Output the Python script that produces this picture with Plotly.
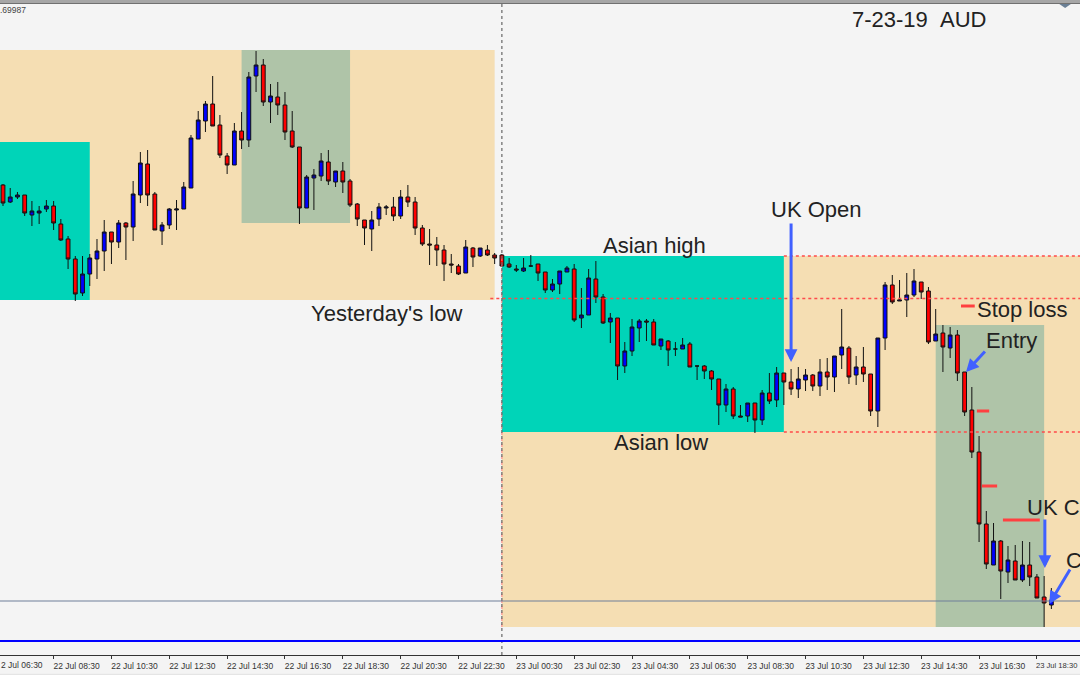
import plotly.graph_objects as go

# Prices are in points above 0.69700 (1 point = 0.00001)
highs = [816,812,808,805,799,794,800,799,781,764,
744,744,746,761,780,768,780,778,819,848,
850,808,778,792,800,818,865,889,899,924,
885,847,877,888,928,949,941,916,918,908,
889,853,825,831,847,850,829,838,821,797,
780,789,797,795,803,810,815,803,775,771,
763,755,746,736,760,753,752,755,747,746,
742,735,742,745,736,728,721,729,734,736,
712,731,739,706,687,682,658,681,681,681,
681,661,660,658,662,658,634,635,630,621,
616,613,595,597,597,610,627,633,627,631,
633,631,626,641,642,644,691,654,644,653,
626,662,718,725,720,727,731,718,713,691,
675,673,670,628,613,564,489,477,460,454,
455,459,458,426,424,412]
lows = [794,797,801,784,774,776,788,770,759,731,
699,704,714,721,729,736,752,740,759,797,
794,770,755,771,770,791,812,861,868,874,
842,826,835,851,853,908,894,877,885,860,
852,776,792,790,819,815,813,807,793,774,
755,749,774,785,779,781,793,765,754,735,
734,719,727,725,727,733,743,744,736,733,
732,728,728,733,719,707,708,706,728,678,
672,685,697,676,657,620,627,644,658,659,
655,650,634,644,651,633,620,621,610,575,
588,581,583,578,567,575,596,593,595,605,
602,609,609,604,610,608,631,616,615,618,
584,573,650,696,699,683,703,701,656,659,
628,642,619,584,542,458,431,435,401,417,
420,418,414,402,373,391]
opens = [815,798,803,805,785,787,791,794,776,761,
741,707,726,741,749,768,758,777,773,805,
836,806,769,775,790,791,812,861,879,896,
875,844,835,869,860,924,935,898,903,895,
869,853,792,822,824,838,818,829,819,796,
780,771,781,792,793,784,803,798,772,756,
755,750,736,734,727,752,744,750,745,745,
736,731,729,734,736,728,710,716,728,731,
682,685,721,703,678,682,634,649,672,679,
678,654,659,651,651,656,634,634,629,621,
595,611,584,584,597,580,607,600,627,618,
611,620,625,614,628,623,645,652,625,633,
626,589,662,715,699,700,705,718,709,659,
667,652,665,628,590,548,476,435,459,428,
439,420,435,423,403,395]
closes = [797,803,805,787,789,789,794,777,760,741,
706,726,742,749,768,758,777,773,806,837,
805,770,775,791,791,813,862,880,896,874,
845,835,869,860,923,935,898,904,895,868,
853,792,823,825,839,819,829,818,795,781,
772,780,793,793,784,803,798,772,756,755,
750,736,735,726,753,743,752,745,742,734,
733,730,732,734,727,710,716,729,732,680,
685,722,703,677,682,634,649,673,679,678,
655,661,650,651,655,633,634,629,621,595,
611,584,583,597,580,607,599,627,618,611,
621,625,614,628,623,644,653,623,633,626,
589,662,715,698,700,705,719,708,658,666,
653,665,627,588,548,476,436,459,429,440,
420,435,423,402,397,400]
assert len(highs) == len(lows) == len(opens) == len(closes) == 146

tick_positions = list(range(-1, 144, 8))
tick_labels = ["", "22 Jul 08:30", "22 Jul 10:30", "22 Jul 12:30", "22 Jul 14:30",
               "22 Jul 16:30", "22 Jul 18:30", "22 Jul 20:30", "22 Jul 22:30", "23 Jul 00:30",
               "23 Jul 02:30", "23 Jul 04:30", "23 Jul 06:30", "23 Jul 08:30", "23 Jul 10:30",
               "23 Jul 12:30", "23 Jul 14:30", "23 Jul 16:30", ""]
edge_labels = [("2 Jul 06:30", -0.41, 8.5), ("23 Jul 18:30", 142.75, 7.6)]

ORANGE, TEAL, GREEN = "#f5deb3", "#00d4b8", "#afc4a8"
# session boxes: candle start, candle end, low, high, colour
boxes = [(-1, 68, 700, 950, ORANGE), (-1, 12, 700, 858, TEAL), (33, 48, 777, 950, GREEN),
         (69, 150, 373, 744, ORANGE), (69, 108, 568, 744, TEAL), (129, 144, 373, 675, GREEN)]
# dotted levels: start candle, price
red_levels = [(108, 744), (67.4, 701.5), (108, 568)]
# short red marks: start candle, end candle, price
red_marks = [(132.5, 134.4, 694), (134.7, 136.4, 589), (135.4, 137.5, 514), (138.3, 143.4, 480)]
# text labels: text, candle, price
labels = [("7-23-19\u00a0\u00a0AUD", 117.12, 981), ("UK Open", 105.92, 791), ("Asian high", 82.72, 755),
          ("Asian low", 84.22, 558), ("Yesterday's low", 42.32, 687), ("Stop loss", 134.42, 691),
          ("Entry", 135.72, 660), ("UK C", 141.32, 493), ("C", 146.72, 440)]
# arrows: tail candle, tail price, tip candle, tip price
arrows = [(109, 778, 109, 638), (136, 650, 133.2, 628), (144.1, 482, 144.1, 432), (147.7, 432, 144.7, 396)]

fig = go.Figure(go.Candlestick(
    x=list(range(len(opens))), open=opens, high=highs, low=lows, close=closes,
    increasing=dict(fillcolor="#0000ff", line=dict(color="#111111", width=1)),
    decreasing=dict(fillcolor="#ff0000", line=dict(color="#111111", width=1)),
    whiskerwidth=0, showlegend=False, hoverinfo="skip"))

shapes = []
for x0, x1, y0, y1, c in boxes:
    shapes.append(dict(type="rect", x0=x0, x1=x1, y0=y0, y1=y1, fillcolor=c, line_width=0, layer="below"))
for x0, y in red_levels:
    shapes.append(dict(type="line", x0=x0, x1=150, y0=y, y1=y, line=dict(color="#ff4a4a", width=1.5, dash="dot")))
shapes.append(dict(type="line", x0=69, x1=69, y0=373, y1=744, line=dict(color="#ff7a7a", width=1, dash="dot")))
shapes.append(dict(type="line", x0=69, x1=69, y0=345, y1=1000, line=dict(color="#666666", width=1.2, dash="dot")))
shapes.append(dict(type="line", x0=-1, x1=150, y0=399, y1=399, line=dict(color="#6f7f99", width=1)))
shapes.append(dict(type="line", x0=-1, x1=150, y0=359, y1=359, line=dict(color="#0000ff", width=2)))
for x0, x1, y in red_marks:
    shapes.append(dict(type="line", x0=x0, x1=x1, y0=y, y1=y, line=dict(color="#ff4040", width=3)))
# window frame at the top: pale band, dark edge, small drop marker
shapes.append(dict(type="rect", x0=-1, x1=150, y0=997, y1=1000, fillcolor="#a6a6a6", line_width=0))
shapes.append(dict(type="rect", x0=-1, x1=150, y0=996, y1=997, fillcolor="#707070", line_width=0))
shapes.append(dict(type="path", path="M 146.1 996 L 147.7 996 L 146.9 992 Z", fillcolor="#6a7f95", line_width=0))
shapes.append(dict(type="line", xref="paper", yref="paper", x0=0, x1=1, y0=-0.0295, y1=-0.0295,
                   line=dict(color="#e2e2e2", width=1)))

annotations = [dict(x=x, y=y, text=t, xref="x", yref="y", xanchor="left", yanchor="middle", showarrow=False,
                    font=dict(family="Liberation Sans", size=22, color="#222222"))
               for t, x, y in labels]
for x0, y0, x1, y1 in arrows:
    annotations.append(dict(x=x1, y=y1, ax=x0, ay=y0, xref="x", yref="y", axref="x", ayref="y", text="",
                            showarrow=True, arrowhead=2, arrowsize=0.85, arrowwidth=3, arrowcolor="#4060ff"))
annotations.append(dict(x=-0.002, y=0.984, xref="paper", yref="paper", xanchor="left", yanchor="middle", text=".69987",
                        showarrow=False, font=dict(family="Liberation Sans", size=8.5, color="#444444")))
for t, x, s in edge_labels:
    annotations.append(dict(x=x, y=-0.0155, xref="x", yref="paper", xanchor="left", yanchor="middle", text=t,
                            showarrow=False, borderpad=0,
                            font=dict(family="Liberation Sans", size=s, color="#333333")))

fig.update_layout(
    width=1080, height=675, margin=dict(l=0, r=0, t=0, b=20),
    paper_bgcolor="#f4f4f4", plot_bgcolor="#f4f4f4", boxgap=0.25, showlegend=False,
    shapes=shapes, annotations=annotations,
    xaxis=dict(range=[-0.415, 148.96], tickmode="array", tickvals=tick_positions, ticktext=tick_labels,
               ticks="outside", ticklen=3, tickcolor="#333333", showline=True, linecolor="#333333", linewidth=1,
               showgrid=False, zeroline=False, rangeslider=dict(visible=False), ticklabelshift=23,
               tickfont=dict(family="Liberation Sans", size=8.5, color="#333333")),
    yaxis=dict(range=[345, 1000], visible=False, showgrid=False, zeroline=False),
)
fig.write_html("out.html", config=dict(displayModeBar=False),
               post_script="document.body.style.margin='0';document.body.style.overflow='hidden';")
